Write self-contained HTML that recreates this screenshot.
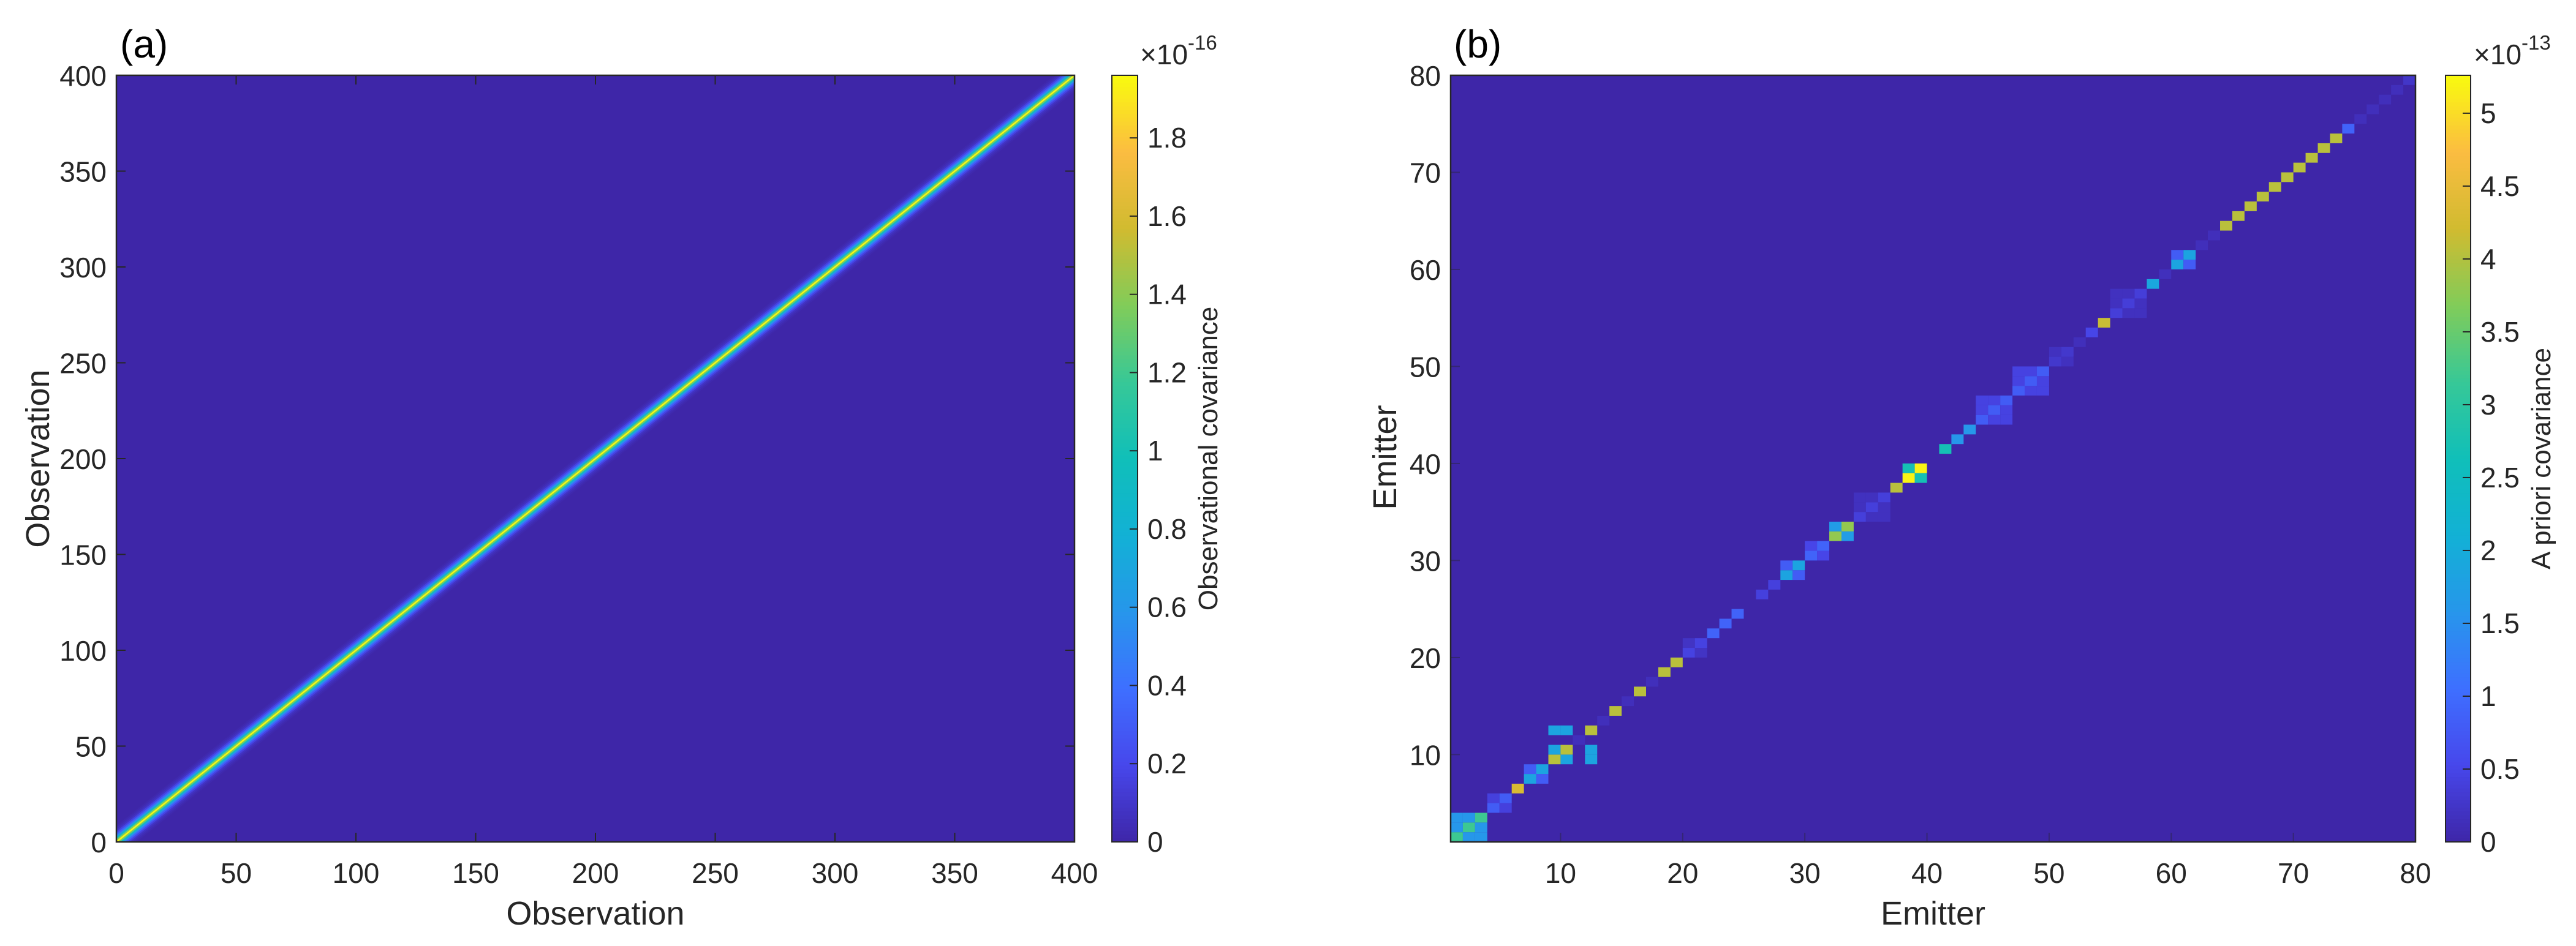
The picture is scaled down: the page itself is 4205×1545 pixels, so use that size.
<!DOCTYPE html>
<html><head><meta charset="utf-8">
<style>
html,body{margin:0;padding:0;background:#fff;}
svg{display:block;font-family:"Liberation Sans",Arial,sans-serif;}
</style></head>
<body>
<svg id="fig" width="4205" height="1545" viewBox="0 0 4205 1545" xmlns="http://www.w3.org/2000/svg">
<rect width="4205" height="1545" fill="#fff"/>
<g id="panelA"></g>
<g id="panelB"></g>
</svg>
<script>
// ---------- Panel (a) data ----------
const obsTicks = [0,50,100,150,200,250,300,350,400];
const obsLag = [0,1,2,3,4,5,6,7,8];
const obsCovByLag = [1.95,1.35,0.9,0.55,0.32,0.17,0.08,0.04,0.015];
const cbATicks = [0,0.2,0.4,0.6,0.8,1,1.2,1.4,1.6,1.8];
const cbATickLabels = ["0","0.2","0.4","0.6","0.8","1","1.2","1.4","1.6","1.8"];
const cbAMax = 1.96;

// ---------- Panel (b) data ----------
const emitTicks = [10,20,30,40,50,60,70,80];
const blockStart = [1,4,6,7,9,11,12,13,14,15,16,17,18,19,20,22,23,24,26,27,28,30,32,34,37,38,41,42,43,44,47,50,52,53,54,55,58,59,60,62,63,64,65,66,67,68,69,70,71,72,73,74,75,76,77,78,79];
const blockSize  = [3,2,1,2,2,1,1,1,1,1,1,1,1,1,2,1,1,1,1,1,2,2,2,3,1,2,1,1,1,3,3,2,1,1,1,3,1,1,2,1,1,1,1,1,1,1,1,1,1,1,1,1,1,1,1,1,1];
const blockDiag  = [3.2,0.8,4.3,1.85,4.05,0.15,4.05,0.15,4.05,0.15,4.05,0.15,4.05,4.05,0.45,0.9,0.9,0.9,0.42,0.42,1.85,0.9,3.8,0.4,4.05,5.2,2.7,1.6,1.6,0.8,0.8,0.28,0.15,0.5,4.15,0.38,1.9,0.16,1.85,0.15,0.15,4.05,4.05,4.05,4.05,4.05,4.05,4.05,4.05,4.05,4.05,0.9,0.15,0.15,0.15,0.15,0.25];
const blockOff   = [1.6,0.42,0,0.8,1.85,0,0,0,0,0,0,0,0,0,0.22,0,0,0,0,0,0.8,0.5,1.7,0.18,0,2.7,0,0,0,0.45,0.45,0.18,0,0,0,0.18,0,0,0.8,0,0,0,0,0,0,0,0,0,0,0,0,0,0,0,0,0,0];
const extraRow = [9,10,12,12];
const extraCol = [12,12,9,10];
const extraVal = [1.85,1.85,1.85,1.85];
const cbBTicks = [0,0.5,1,1.5,2,2.5,3,3.5,4,4.5,5];
const cbBTickLabels = ["0","0.5","1","1.5","2","2.5","3","3.5","4","4.5","5"];
const cbBMax = 5.26;
const nEmit = 79;

// parula colormap anchors (colormap definition)
const parula = [[62,38,168],[71,71,235],[62,111,255],[39,150,235],[18,177,213],[16,191,185],[55,200,151],[129,204,89],[209,187,48],[251,188,65],[249,251,14]];
function cmap(t){
  t=Math.max(0,Math.min(1,t));
  const p=t*(parula.length-1), i=Math.min(parula.length-2,Math.floor(p)), f=p-i;
  const a=parula[i], b=parula[i+1];
  return 'rgb('+[0,1,2].map(k=>Math.round(a[k]+(b[k]-a[k])*f)).join(',')+')';
}
const NS='http://www.w3.org/2000/svg';
function el(tag, attrs, parent, txt){
  const e=document.createElementNS(NS,tag);
  for(const k in attrs) e.setAttribute(k,attrs[k]);
  if(txt!==undefined) e.textContent=txt;
  parent.appendChild(e); return e;
}
const TF='font-family:"Liberation Sans",Arial,sans-serif;';

function colorbar(g, x0, x1, yTop, yBot, max, ticks, labels, expText, expPow, title, nameP){
  const cb=el('g',{},g);
  
  
  const n=200, h=(yBot-yTop)/n;
  for(let i=0;i<n;i++){
    el('rect',{x:x0,y:yBot-(i+1)*h-0.5,width:x1-x0,height:h+1,fill:cmap((i+0.5)/n)},cb);
  }
  el('rect',{x:x0,y:yTop,width:x1-x0,height:yBot-yTop,fill:'none',stroke:'#262626','stroke-width':2},cb);
  ticks.forEach((v,i)=>{
    const y=yBot-(v/max)*(yBot-yTop);
    el('line',{x1:x1-13,x2:x1,y1:y,y2:y,stroke:'#262626','stroke-width':2},cb);
    const t=el('text',{x:x1+16,y:y+16,'font-size':46,fill:'#262626'},cb,labels[i]);
    
    
  });
  const ex=el('text',{x:x0+46,y:105,'font-size':46,fill:'#262626'},cb);
  
  
  el('tspan',{},ex,'×10');
  el('tspan',{dy:-24,'font-size':33},ex,expPow);
  const tl=el('text',{x:0,y:0,'font-size':44,fill:'#262626','text-anchor':'middle',transform:'translate('+(x1+130)+','+((yTop+yBot)/2)+') rotate(-90)'},cb,title);
  
  
}

// ---------- Panel A ----------
(function(){
  const g=document.getElementById('panelA');
  const L=190,R=1754,T=123,B=1375;
  const xs=v=>L+(v/400)*(R-L), ys=v=>B-(v/400)*(B-T);
  const clip=el('clipPath',{id:'clipA'},g); el('rect',{x:L,y:T,width:R-L,height:B-T},clip);
  const plot=el('g',{'clip-path':'url(#clipA)'},g);
  
  
  el('rect',{x:L,y:T,width:R-L,height:B-T,fill:cmap(0)},plot);
  for(let k=obsLag.length-1;k>=0;k--){
    const w=obsLag[k]+0.5;
    const pts=[[0,0-w],[0,w],[400-w,400],[400+w,400],[400,400-w],[w,0]];
    const poly=el('polygon',{points:pts.map(p=>xs(p[0])+','+ys(p[1])).join(' '),fill:cmap(obsCovByLag[k]/cbAMax)},plot);
    
    
  }
  el('rect',{x:L,y:T,width:R-L,height:B-T,fill:'none',stroke:'#262626','stroke-width':2.5},g);
  obsTicks.forEach(v=>{
    el('line',{x1:xs(v),x2:xs(v),y1:B,y2:B-15,stroke:'#262626','stroke-width':2},g);
    el('line',{x1:xs(v),x2:xs(v),y1:T,y2:T+15,stroke:'#262626','stroke-width':2},g);
    el('line',{x1:L,x2:L+15,y1:ys(v),y2:ys(v),stroke:'#262626','stroke-width':2},g);
    el('line',{x1:R,x2:R-15,y1:ys(v),y2:ys(v),stroke:'#262626','stroke-width':2},g);
    const tx=el('text',{x:xs(v),y:1442,'font-size':46,'text-anchor':'middle',fill:'#262626'},g,String(v));
    
    
    const ty=el('text',{x:174,y:ys(v)+17,'font-size':46,'text-anchor':'end',fill:'#262626'},g,String(v));
    
    
  });
  const xl=el('text',{x:(L+R)/2,y:1510,'font-size':54,'text-anchor':'middle',fill:'#262626'},g,'Observation');
  
  
  const yl=el('text',{x:0,y:0,'font-size':54,'text-anchor':'middle',fill:'#262626',transform:'translate(80,'+((T+B)/2)+') rotate(-90)'},g,'Observation');
  
  
  const pl=el('text',{x:196,y:94,'font-size':64,fill:'#000'},g,'(a)');
  
  
  colorbar(g,1815,1857,T,B,cbAMax,cbATicks,cbATickLabels,'×10','-16','Observational covariance','observational');
})();

// ---------- Panel B ----------
(function(){
  const g=document.getElementById('panelB');
  const L=2368,R=3943,T=123,B=1375;
  const xs=v=>L+((v-0.5)/nEmit)*(R-L), ys=v=>B-((v-0.5)/nEmit)*(B-T);
  const plot=el('g',{},g);
  
  
  el('rect',{x:L,y:T,width:R-L,height:B-T,fill:cmap(0)},plot);
  function cell(r,c,v){
    if(v<=0) return;
    const x=xs(c-0.5), y=ys(r+0.5);
    const rc=el('rect',{x:x,y:y,width:xs(c+0.5)-x,height:ys(r-0.5)-y,fill:cmap(v/cbBMax)},plot);
    
    
  }
  blockStart.forEach((s,b)=>{
    for(let i=0;i<blockSize[b];i++) for(let j=0;j<blockSize[b];j++){
      cell(s+i,s+j,i===j?blockDiag[b]:blockOff[b]);
    }
  });
  extraRow.forEach((r,i)=>cell(r,extraCol[i],extraVal[i]));
  el('rect',{x:L,y:T,width:R-L,height:B-T,fill:'none',stroke:'#262626','stroke-width':2.5},g);
  emitTicks.forEach(v=>{
    const px=xs(v-0.5), py=ys(v-0.5);
    el('line',{x1:px,x2:px,y1:B,y2:B-15,stroke:'#262626','stroke-width':2,'stroke-opacity':0.4},g);
    el('line',{x1:L,x2:L+15,y1:py,y2:py,stroke:'#262626','stroke-width':2,'stroke-opacity':0.4},g);
    const tx=el('text',{x:px,y:1442,'font-size':46,'text-anchor':'middle',fill:'#262626'},g,String(v));
    
    
    const ty=el('text',{x:2352,y:py+17,'font-size':46,'text-anchor':'end',fill:'#262626'},g,String(v));
    
    
  });
  const xl=el('text',{x:(L+R)/2,y:1510,'font-size':54,'text-anchor':'middle',fill:'#262626'},g,'Emitter');
  
  
  const yl=el('text',{x:0,y:0,'font-size':54,'text-anchor':'middle',fill:'#262626',transform:'translate(2279,747) rotate(-90)'},g,'Emitter');
  
  
  const pl=el('text',{x:2373,y:94,'font-size':64,fill:'#000'},g,'(b)');
  
  
  colorbar(g,3992,4033,T,B,cbBMax,cbBTicks,cbBTickLabels,'×10','-13','A priori covariance','a-priori');
})();
</script>
</body></html>
